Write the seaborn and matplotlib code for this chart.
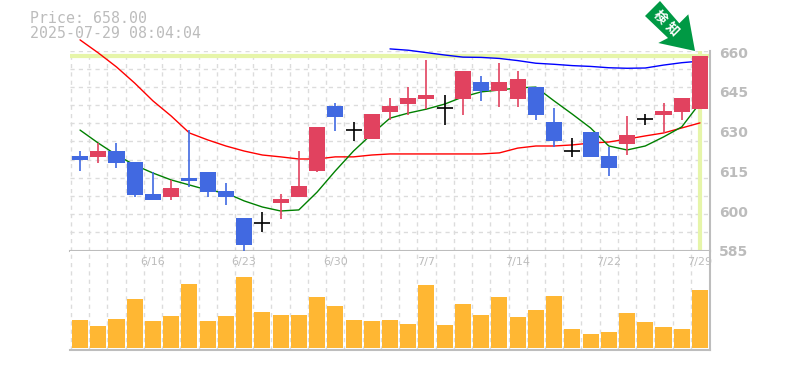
import numpy as np
import pandas as pd
import matplotlib
matplotlib.use('Agg')
import matplotlib.pyplot as plt
from matplotlib.patches import Polygon
import seaborn as sns

price_now = 'Price: 658.00'
time_now = '2025-07-29 08:04:04'

opens = [620.2, 619.9, 622.1, 617.9, 605.9, 604.8, 611.9, 614.2, 607.0, 596.8,
         594.9, 602.5, 604.8, 614.6, 639.1, 630.0, 626.6, 636.8, 639.8, 641.7,
         638.2, 641.7, 648.1, 644.7, 641.7, 646.2, 633.0, 622.1, 629.3, 620.2,
         624.7, 634.2, 635.7, 636.8, 637.9]
closes = [618.7, 622.1, 617.6, 605.5, 603.6, 608.2, 610.8, 606.6, 604.8, 586.7,
          594.9, 604.0, 608.9, 631.2, 634.9, 630.0, 636.0, 639.1, 642.1, 643.2,
          638.2, 652.3, 644.7, 648.1, 649.2, 635.7, 625.9, 622.1, 619.9, 615.7,
          628.1, 634.2, 637.2, 642.1, 658.0]
highs = [622.1, 625.0, 625.0, 617.9, 614.2, 611.2, 630.0, 614.2, 610.0, 596.8,
         599.1, 605.9, 622.1, 631.2, 640.2, 633.0, 636.0, 642.1, 646.2, 656.4,
         643.2, 652.3, 650.4, 655.3, 652.3, 646.2, 638.2, 627.0, 629.3, 623.6,
         635.3, 636.0, 640.2, 642.1, 658.0]
lows = [614.6, 617.6, 615.7, 604.8, 603.6, 603.6, 608.5, 604.8, 601.8, 584.6,
        591.6, 596.5, 604.8, 614.2, 629.6, 625.9, 626.6, 633.8, 635.7, 637.9,
        631.9, 635.7, 641.0, 638.7, 638.7, 633.8, 623.6, 619.9, 619.9, 612.7,
        620.6, 631.9, 628.9, 633.8, 637.9]

ma_red = [664.0, 659.1, 653.8, 647.7, 641.0, 635.3, 628.9, 626.3, 624.0, 622.1,
          620.6, 619.9, 619.1, 619.1, 619.9, 619.9, 620.6, 621.0, 621.0, 621.0,
          621.0, 621.0, 621.0, 621.4, 623.2, 624.0, 624.0, 624.4, 625.1, 625.5,
          626.6, 627.8, 628.9, 630.8, 632.7]
ma_green = [630.0, 625.1, 620.6, 616.8, 613.8, 611.2, 609.3, 607.4, 606.3, 603.3,
            601.0, 599.5, 599.9, 606.6, 614.6, 622.1, 628.5, 634.5, 636.4, 637.9,
            639.8, 642.5, 644.4, 645.1, 645.9, 646.2, 641.0, 636.0, 630.8, 624.0,
            622.5, 624.0, 627.4, 631.2, 640.2]
ma_blue = [660.6, 660.1, 659.2, 658.3, 657.5, 657.4, 657.0, 656.2, 655.2, 654.8,
           654.3, 654.0, 653.5, 653.3, 653.4, 654.5, 655.4, 656.0]

volumes = [28, 22, 29, 49, 27, 32, 64, 27, 32, 71, 36, 33, 33, 51, 42, 28, 27, 28,
           24, 63, 23, 44, 33, 51, 31, 38, 52, 19, 14, 16, 35, 26, 21, 19, 58]

date_labels = ['6/16', '6/23', '6/30', '7/7', '7/14', '7/22', '7/29']
date_index = [4, 9, 14, 19, 24, 29, 34]
price_ticks = [660, 645, 630, 615, 600, 585]
last_price = 658.0

W, H = 785, 370
TXT = '#bcbcbc'
GRID = '#dcdcdc'
EDGE = '#bdbdbd'
UP = '#e1425f'
DOWN = '#4169e1'
MARK = '#e6f5a9'
MONO = 'DejaVu Sans Mono'
Y_LOW, Y_TOP = 584.6, 660

sns.set_theme(style='white')
plt.rcParams['font.family'] = [MONO]

df = pd.DataFrame({'i': range(len(opens)), 'o': opens, 'c': closes, 'h': highs, 'l': lows,
                   'red': ma_red, 'green': ma_green, 'vol': volumes})
df['blue'] = [np.nan] * (len(df) - len(ma_blue)) + ma_blue

fig = plt.figure(figsize=(W / 100, H / 100), dpi=100)
ax = fig.add_axes([70 / W, 1 - 250.5 / H, 640 / W, 200 / H])
ax2 = fig.add_axes([70 / W, 1 - 350 / H, 640 / W, 99.5 / H])

xlim = (-0.55, 34.55)
grid_x = np.arange(0.5, 34, 1)

# 価格チャート
ax.set_xlim(*xlim)
ax.set_ylim(Y_LOW, Y_TOP)
ax.set_yticks(np.linspace(Y_LOW, Y_TOP, 12))
ax.set_xticks(np.r_[xlim[0] + 0.05, grid_x])
ax.grid(True, color=GRID, linestyle=(0, (3, 3)), linewidth=1)
ax.set_axisbelow(True)
ax.tick_params(left=False, bottom=False, labelleft=False, labelbottom=False)

ax.axhline(last_price, color=MARK, lw=3, zorder=1)
ax.vlines(df['i'].iloc[-1], Y_LOW, Y_TOP, color=MARK, lw=3, zorder=1)

for col, c in [('red', '#ff0000'), ('green', '#008000'), ('blue', '#0000ff')]:
    sns.lineplot(data=df, x='i', y=col, ax=ax, color=c, lw=1, zorder=2, clip_on=False)
ax.set_xlabel('')
ax.set_ylabel('')

df['up'] = df['c'] > df['o']
df['doji'] = df['c'] == df['o']
for key, color in [(True, UP), (False, DOWN)]:
    part = df[(df['up'] == key) & ~df['doji']]
    ax.vlines(part['i'], part['l'], part['h'], color=color, lw=1.2, zorder=3)
    ax.bar(part['i'], (part['c'] - part['o']).abs(), bottom=part[['c', 'o']].min(axis=1),
           width=0.88, color=color, linewidth=0, zorder=4)
part = df[df['doji']]
ax.vlines(part['i'], part['l'], part['h'], color='black', lw=1.2, zorder=4)
ax.hlines(part['c'], part['i'] - 0.44, part['i'] + 0.44, color='black', lw=1.2, zorder=4)

for s in ['top', 'left']:
    ax.spines[s].set_visible(False)
for s in ['bottom', 'right']:
    ax.spines[s].set_color(EDGE)
    ax.spines[s].set_linewidth(1.5)

for p in price_ticks:
    py = 50.5 + (Y_TOP - p) / (Y_TOP - Y_LOW) * 200 + 3
    fig.text(719 / W, 1 - py / H, str(p), color=TXT, fontsize=10, fontweight='bold',
             family='DejaVu Sans', ha='left', va='center')

# 出来高
sns.barplot(data=df, x='i', y='vol', ax=ax2, native_scale=True, color='#ffb733', saturation=1,
            width=0.88, linewidth=0, zorder=3)
ax2.set_xlim(*xlim)
ax2.set_ylim(-2, 97.5)
ax2.set_xticks(np.r_[xlim[0] + 0.05, grid_x])
ax2.set_yticks([])
ax2.grid(True, axis='x', color=GRID, linestyle=(0, (3, 3)), linewidth=1)
ax2.set_axisbelow(True)
ax2.tick_params(left=False, bottom=False, labelleft=False, labelbottom=False)
ax2.set_xlabel('')
ax2.set_ylabel('')
for s in ['top', 'left']:
    ax2.spines[s].set_visible(False)
for s in ['bottom', 'right']:
    ax2.spines[s].set_color(EDGE)
    ax2.spines[s].set_linewidth(1.5)
for i, lab in zip(date_index, date_labels):
    ax2.text(i, 86, lab, color=TXT, fontsize=8, ha='center', va='center', family='DejaVu Sans', zorder=5)

fig.text(30 / W, 1 - 18.5 / H, price_now, color=TXT, fontsize=10.7, va='center', ha='left')
fig.text(30 / W, 1 - 33.5 / H, time_now, color=TXT, fontsize=10.7, va='center', ha='left')

# 検知マーク
pts = [(660, 1), (645, 16), (668, 38), (658.3, 43), (695, 51), (688.3, 14.3), (679.3, 23.3)]
fig.add_artist(Polygon([(x / W, 1 - y / H) for x, y in pts], closed=True, transform=fig.transFigure,
                       facecolor='#009944', edgecolor='none', zorder=10))
for gx, gy, ch in [(660, 17, '検'), (672, 29, '知')]:
    fig.text(gx / W, 1 - gy / H, ch, color='white', fontsize=9.5, fontweight='bold', rotation=-45,
             ha='center', va='center', family=['Noto Sans CJK JP', 'DejaVu Sans'], zorder=11)

fig.savefig('out.png', dpi=100)
